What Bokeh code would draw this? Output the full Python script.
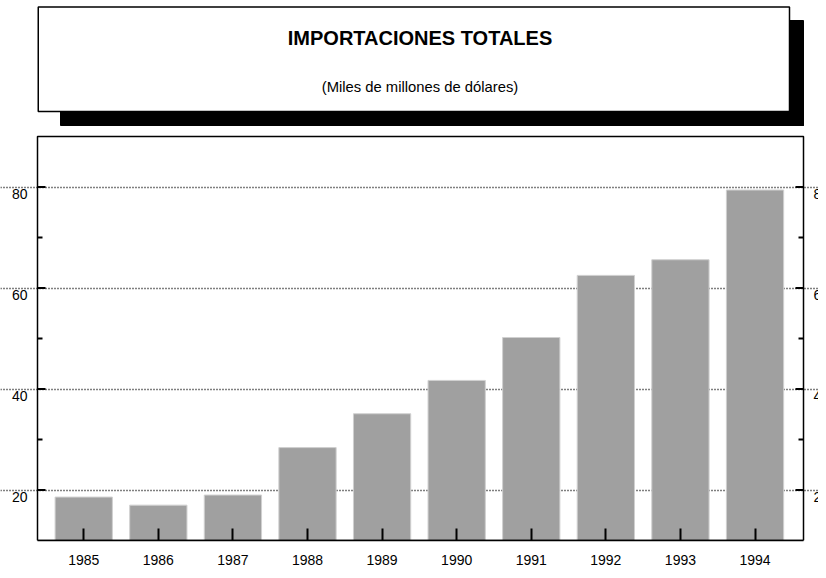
from bokeh.plotting import figure
from bokeh.models import (Range1d, FixedTicker, LinearAxis, ColumnDataSource,
                          Label, LabelSet)
from bokeh.core.properties import value
from bokeh.layouts import column
from bokeh.embed import file_html
from bokeh.resources import INLINE

# ---- data ----
years = [1985, 1986, 1987, 1988, 1989, 1990, 1991, 1992, 1993, 1994]
values = [18.6, 17.0, 19.0, 28.4, 35.1, 41.7, 50.2, 62.5, 65.6, 79.4]
y_ticks = [20, 40, 60, 80]
y_minor_ticks = [30, 50, 70]
y_tick_labels = ["20", "40", "60", "80"]
title_text = "IMPORTACIONES TOTALES"
subtitle_text = "(Miles de millones de dólares)"

FONT = "Liberation Sans"
W, H = 818, 570
TOP_H = 134
BOT_H = H - TOP_H

# plot box (pixels) and its data extent
BOX_L, BOX_R, BOX_T, BOX_B = 37, 803, 136, 540
X_LO, X_HI = 1984.38, 1994.65
Y_LO, Y_HI = 10, 90
pxu_x = (BOX_R - BOX_L) / (X_HI - X_LO)
pxu_y = (BOX_B - BOX_T) / (Y_HI - Y_LO)
x_start = X_LO - BOX_L / pxu_x
x_end = X_HI + (W - BOX_R) / pxu_x
y_end = Y_HI + (BOX_T - TOP_H) / pxu_y

# ---- title panel ----
top = figure(width=W, height=TOP_H, x_range=Range1d(0, W), y_range=Range1d(TOP_H, 0),
             output_backend="svg", toolbar_location=None, min_border=0,
             x_axis_location=None, y_axis_location=None, outline_line_color=None)
top.grid.visible = False
# drop shadow
top.quad(left=[789], right=[803], top=[20], bottom=[125], color="black")
top.quad(left=[60], right=[803], top=[111], bottom=[125], color="black")
# box
top.quad(left=[37.75], right=[789], top=[6.5], bottom=[111], fill_color="white",
         line_color="black", line_width=1.5)
top.add_layout(Label(x=419.5, y=37, text=title_text, text_align="center",
                     text_baseline="middle", text_font=FONT, text_font_size="20px",
                     text_font_style="bold", text_color="black"))
top.add_layout(Label(x=419.5, y=86, text=subtitle_text, text_align="center",
                     text_baseline="middle", text_font=FONT, text_font_size="14.8px",
                     text_color="black"))

# ---- chart panel ----
p = figure(width=W, height=BOT_H, x_range=Range1d(x_start, x_end),
           y_range=Range1d(Y_LO, y_end),
           output_backend="svg", toolbar_location=None,
           x_axis_location=None, y_axis_location=None,
           min_border_left=0, min_border_right=0, min_border_top=0, min_border_bottom=H - BOX_B,
           outline_line_color=None)

# grid
p.xgrid.visible = False
p.ygrid.ticker = FixedTicker(ticks=y_ticks)
p.ygrid.bounds = (X_LO, X_HI)
p.ygrid.grid_line_color = "black"
p.ygrid.grid_line_dash = "1 2"
p.ygrid.grid_line_width = 1.5

# bars
src = ColumnDataSource(dict(x=years, top=values))
p.vbar(x="x", top="top", bottom=Y_LO, width=0.768, source=src,
       fill_color="#a0a0a0", line_color="#d0d0d0", line_width=1)

# plot box
p.quad(left=[X_LO], right=[X_HI], bottom=[Y_LO], top=[Y_HI], fill_color=None,
       line_color="black", line_width=1.5)

# y ticks (inward, both sides)
maj_in = 8 / pxu_x
min_in = 5 / pxu_x
tsrc = ColumnDataSource(dict(y=y_ticks))
msrc = ColumnDataSource(dict(y=y_minor_ticks))
for x0, d in ((X_LO, 1), (X_HI, -1)):
    p.segment(x0=x0, x1=x0 + d * maj_in, y0="y", y1="y", source=tsrc,
              line_color="black", line_width=2)
    p.segment(x0=x0, x1=x0 + d * min_in, y0="y", y1="y", source=msrc,
              line_color="black", line_width=2)

# y tick labels
lsrc = ColumnDataSource(dict(y=y_ticks, t=y_tick_labels))
common = dict(y="y", text="t", source=lsrc, y_offset=-2, text_baseline="top",
              text_font=value(FONT), text_font_size=value("14px"), text_color="black")
p.add_layout(LabelSet(x=X_LO, x_offset=-10, text_align="right", **common))
p.add_layout(LabelSet(x=X_HI, x_offset=10, text_align="left", **common))

# bottom axis
bottom = LinearAxis(ticker=FixedTicker(ticks=years), bounds=(X_LO, X_HI))
bottom.major_tick_in = 12
bottom.major_tick_out = 0
bottom.minor_tick_in = 0
bottom.minor_tick_out = 0
bottom.major_tick_line_width = 2
bottom.axis_line_width = 1.5
bottom.major_label_standoff = 14
bottom.major_label_text_font = FONT
bottom.major_label_text_font_size = "14px"
bottom.major_label_text_color = "black"
p.add_layout(bottom, "below")

layout = column(top, p, spacing=0)
open("out.html", "w").write(file_html(layout, INLINE))
